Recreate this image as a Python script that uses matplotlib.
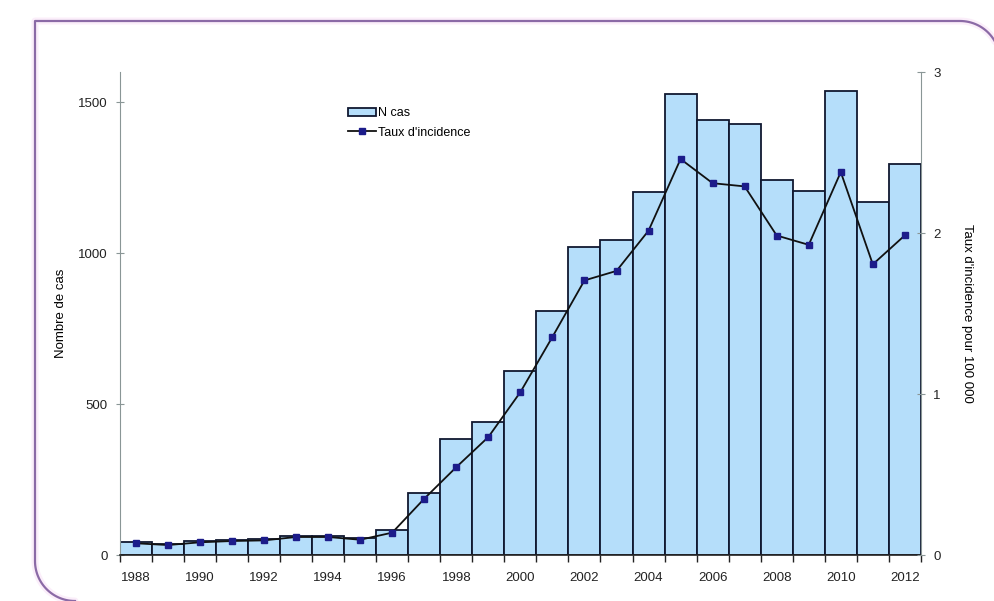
import matplotlib.pyplot as plt
import numpy as np
from matplotlib.patches import Patch
from matplotlib.lines import Line2D

years = list(range(1988, 2013))
n_cas = [44, 35, 47, 49, 52, 64, 63, 55, 83, 205, 383, 440, 610, 808, 1021,
         1045, 1203, 1526, 1443, 1427, 1244, 1206, 1538, 1170, 1295]
taux = [0.073, 0.062, 0.079, 0.087, 0.091, 0.112, 0.112, 0.095, 0.139, 0.35,
        0.546, 0.733, 1.012, 1.355, 1.706, 1.765, 2.015, 2.46, 2.31, 2.29,
        1.985, 1.927, 2.379, 1.806, 1.986]

plt.rcParams['font.family'] = ['Liberation Sans', 'DejaVu Sans']

W, H = 995, 601
fig = plt.figure(figsize=(W / 100, H / 100), dpi=100)

# decorative frame: square top-left, rounded top-right and bottom-left
bg = fig.add_axes([0, 0, 1, 1], zorder=-1)
bg.set_xlim(0, W)
bg.set_ylim(H, 0)
bg.axis('off')
r = 40
t = np.linspace(0, np.pi / 2, 30)
tr_x = [960 + r * np.sin(a) for a in t]
tr_y = [21 + r - r * np.cos(a) for a in t]
bl_x = [35 + r - r * np.cos(a) for a in t]
bl_y = [H - 40 + r * np.sin(a) for a in t]
px = bl_x[::-1] + [35, 960] + tr_x
py = bl_y[::-1] + [21, 21] + tr_y
bg.plot(px, py, color='#fbeefa', lw=5, solid_capstyle='round')
bg.plot(px, py, color='#8b6aa6', lw=1.6)

ax = fig.add_axes([0.1205, 0.0765, 0.805, 0.8035])
idx = np.arange(len(years))
ax.bar(idx, n_cas, width=1.0, color='#b5defa', edgecolor='#101830', linewidth=1.3, zorder=2)
ax.set_xlim(-0.5, len(years) - 0.5)
ax.set_ylim(0, 1600)
ax.set_yticks([0, 500, 1000, 1500])
ax.set_xticks(np.arange(-0.5, len(years), 1))
ax.set_xticklabels([])
ax.set_xticks(idx[::2], minor=True, labels=[str(y) for y in years[::2]])
ax.tick_params(axis='x', which='major', length=5, width=1, color='#222222', direction='out')
ax.tick_params(axis='x', which='minor', length=0, labelsize=9.5, pad=12, labelcolor='#222222')
ax.tick_params(axis='y', length=6, direction='inout', color='#8a9696', labelsize=9.5,
               labelcolor='#222222', pad=6)
for s in ['top', 'right']:
    ax.spines[s].set_visible(False)
ax.spines['left'].set_color('#8a9696')
ax.spines['bottom'].set_color('#222222')
ax.spines['bottom'].set_linewidth(1.2)
ax.set_ylabel('Nombre de cas', fontsize=9.5, labelpad=8)

ax2 = ax.twinx()
ax2.plot(idx, taux, color='#111111', lw=1.3, marker='s', markersize=5,
         markerfacecolor='#1c1c8a', markeredgecolor='#1c1c8a', zorder=3)
ax2.set_ylim(0, 3)
ax2.set_yticks([0, 1, 2, 3])
ax2.tick_params(axis='y', length=6, direction='inout', color='#8a9696', labelsize=9.5,
                labelcolor='#222222', pad=6)
for s in ['top', 'left', 'bottom']:
    ax2.spines[s].set_visible(False)
ax2.spines['right'].set_color('#8a9696')
ax2.set_ylabel("Taux d'incidence pour 100 000", fontsize=9.5, rotation=-90, labelpad=23)

handles = [Patch(facecolor='#b5defa', edgecolor='#101830', linewidth=1.3),
           Line2D([], [], color='#111111', lw=1.3, marker='s', markersize=5,
                  markerfacecolor='#1c1c8a', markeredgecolor='#1c1c8a')]
fig.legend(handles, ['N cas', "Taux d'incidence"], loc='upper left',
           bbox_to_anchor=(342 / W, 1 - 101 / H), frameon=False, fontsize=9,
           handlelength=2.2, handletextpad=0.15, labelspacing=0.6, borderpad=0)

fig.savefig('out.png', dpi=100)
